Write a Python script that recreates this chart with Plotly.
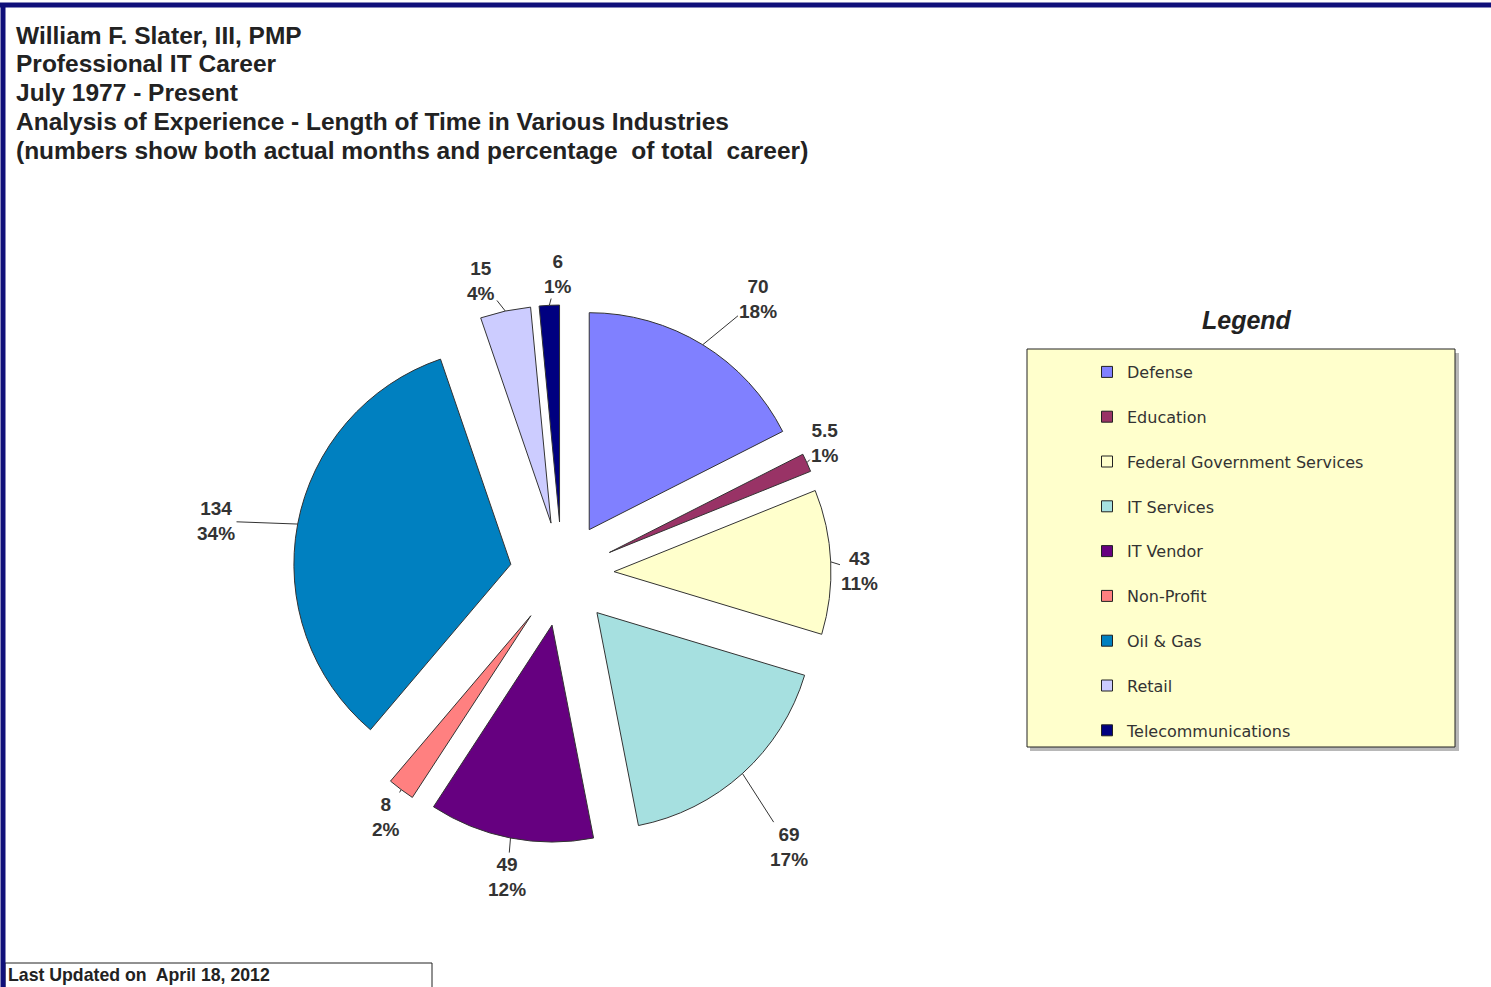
import math
import plotly.graph_objects as go

# Months spent in each industry (July 1977 - April 2012)
industries = ["Defense", "Education", "Federal Government Services", "IT Services",
              "IT Vendor", "Non-Profit", "Oil & Gas", "Retail", "Telecommunications"]
months = [70, 5.5, 43, 69, 49, 8, 134, 15, 6]
percent_labels = ["18%", "1%", "11%", "17%", "12%", "2%", "34%", "4%", "1%"]
colors = ["#8080FF", "#993366", "#FFFFCC", "#A6E0E0", "#660080",
          "#FF8080", "#0080C0", "#CCCCFF", "#000080"]

title_lines = [
    "William F. Slater, III, PMP",
    "Professional IT Career",
    "July 1977 - Present",
    "Analysis of Experience - Length of Time in Various Industries",
    "(numbers show both actual months and percentage  of total  career)",
]

W, H = 1491, 987

def px(x):
    return x / W

def py(y):
    return 1 - y / H

# Pie placement (pixels) and slice explosion
PIE_CX, PIE_CY, PIE_HALF = 562, 574, 269
PULL = 0.24
# data label placement: distance from the pie centre (px) and a small
# angular nudge (degrees) away from each slice's mid angle
label_radius = [338, 294, 298, 355, 308, 300, 350, 304, 300]
label_nudge = [4, -2, 2, 2.3, -0.8, -0.8, -2, -3.2, 1.9]

fig = go.Figure()

# Exploded pie, first slice at 12 o'clock going clockwise
fig.add_trace(go.Pie(
    labels=industries,
    values=months,
    textinfo="none",
    marker=dict(colors=colors, line=dict(color="#333333", width=1)),
    pull=[PULL] * len(months),
    sort=False,
    direction="clockwise",
    rotation=0,
    showlegend=False,
    hoverinfo="label+value",
    domain=dict(x=[px(PIE_CX - PIE_HALF), px(PIE_CX + PIE_HALF)],
                y=[py(PIE_CY + PIE_HALF), py(PIE_CY - PIE_HALF)]),
))

# Data labels with leader lines
annotations = []
total = sum(months)
cum = 0.0
for val, pct, rl, nudge in zip(months, percent_labels, label_radius, label_nudge):
    mid = (cum + val / 2) / total * 2 * math.pi
    cum += val
    tip_x = PIE_CX + PIE_HALF * math.sin(mid)
    tip_y = PIE_CY - PIE_HALF * math.cos(mid)
    la = mid + math.radians(nudge)
    lab_x = PIE_CX + rl * math.sin(la)
    lab_y = PIE_CY - rl * math.cos(la)
    annotations.append(dict(
        xref="paper", yref="paper", x=px(tip_x), y=py(tip_y),
        ax=lab_x - tip_x, ay=lab_y - tip_y, axref="pixel", ayref="pixel",
        text=f"<b>{val:g}<br>{pct}</b>",
        showarrow=True, arrowhead=0, arrowwidth=1, arrowcolor="#333333", standoff=0,
        font=dict(family="Liberation Sans", size=19, color="#333333"),
        align="center",
    ))

# Legend entries, one group per industry so they can be spaced out
for name, col in zip(industries, colors):
    fig.add_trace(go.Scatter(
        x=[None], y=[None], mode="markers", name=name, legendgroup=name,
        marker=dict(symbol="square", size=11, color=col,
                    line=dict(color="#222222", width=1)),
        hoverinfo="skip",
    ))

# Title block, one annotation per line
for i, line in enumerate(title_lines):
    annotations.append(dict(
        xref="paper", yref="paper", x=px(14), y=py(35 + 28.8 * i),
        xanchor="left", yanchor="middle", showarrow=False,
        text=f"<b>{line}</b>",
        font=dict(family="Liberation Sans", size=24.5, color="#222222"),
    ))

annotations += [
    dict(xref="paper", yref="paper", x=px(1247), y=py(320), xanchor="center", yanchor="middle",
         showarrow=False, text="<b><i>Legend</i></b>",
         font=dict(family="Liberation Sans", size=25, color="#222222")),
    dict(xref="paper", yref="paper", x=px(6), y=py(975), xanchor="left", yanchor="middle",
         showarrow=False, text="<b>Last Updated on  April 18, 2012</b>",
         font=dict(family="Liberation Sans", size=17.7, color="#222222")),
]

fig.update_layout(
    width=W, height=H,
    margin=dict(l=0, r=0, t=0, b=0),
    paper_bgcolor="white",
    plot_bgcolor="white",
    xaxis=dict(visible=False),
    yaxis=dict(visible=False),
    showlegend=True,
    legend=dict(
        x=px(1087), y=py(355), xanchor="left", yanchor="top",
        bgcolor="rgba(0,0,0,0)", borderwidth=0,
        font=dict(family="DejaVu Sans", size=16, color="#333333"),
        tracegroupgap=21,
        itemclick=False, itemdoubleclick=False,
    ),
    shapes=[
        # page frame
        dict(type="line", xref="paper", yref="paper", x0=0, x1=1, y0=py(5), y1=py(5),
             line=dict(color="#10107A", width=5)),
        dict(type="line", xref="paper", yref="paper", x0=px(3), x1=px(3), y0=0, y1=py(3),
             line=dict(color="#10107A", width=5)),
        # legend box shadow and box
        dict(type="rect", xref="paper", yref="paper", x0=px(1030), x1=px(1459),
             y0=py(751), y1=py(353), fillcolor="#B8B8B8", line=dict(width=0), layer="below"),
        dict(type="rect", xref="paper", yref="paper", x0=px(1027), x1=px(1455),
             y0=py(747), y1=py(349), fillcolor="#FFFFCC",
             line=dict(color="#222222", width=1), layer="below"),
        # footer box
        dict(type="rect", xref="paper", yref="paper", x0=px(5), x1=px(432),
             y0=py(990), y1=py(963), fillcolor="white",
             line=dict(color="#222222", width=1), layer="below"),
    ],
    annotations=annotations,
)

fig.write_html("out.html")
